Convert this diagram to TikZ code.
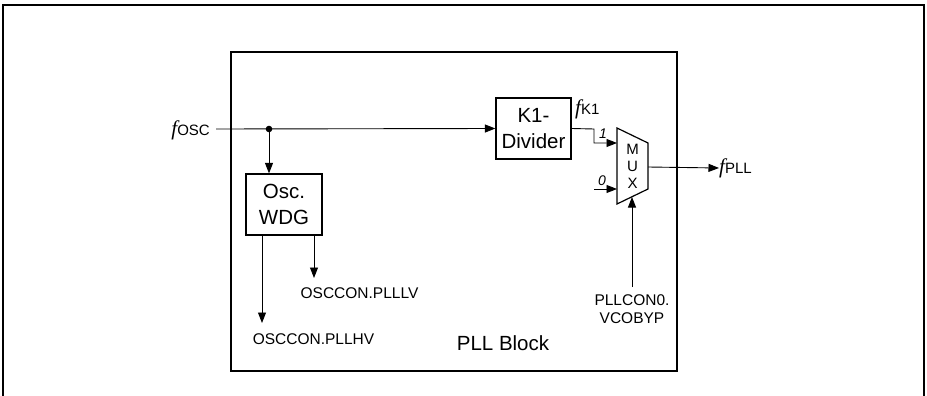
\documentclass[tikz,border=0pt]{standalone}
\usepackage{fontspec}
\setmainfont{Liberation Sans}
\newfontfamily\tnr{Liberation Serif}
\usetikzlibrary{arrows.meta}
\newcommand{\fsym}[1]{{\fontsize{21}{22}\selectfont\tnr\itshape f}{\fontsize{15}{16}\selectfont #1}}
\begin{document}
\begin{tikzpicture}[x=1pt,y=-1pt,
  conn/.style={line width=0.9pt,-{Triangle[length=10.5pt,width=8pt]}},
  blockbox/.style={draw,line width=1.2pt,inner sep=0pt,align=center,font=\fontsize{20.5}{26}\selectfont},
  smalllab/.style={inner sep=0pt,align=center,font=\fontsize{15.5}{18}\selectfont},
  sellab/.style={inner sep=0pt,font=\fontsize{14}{16}\selectfont\itshape}]
\useasboundingbox (0,0) rectangle (927,396);
% outer frame
\draw[line width=2pt] (3,396) -- (3,5) -- (924,5) -- (924,396);
% PLL block
\draw[line width=1.8pt] (231,52) rectangle (677,371);
\node[inner sep=0pt,font=\fontsize{20.5}{22}\selectfont] (plllab) at (503,343) {PLL Block};
% input
\node[inner sep=0pt,anchor=east] (fosc) at (210,130) {\fsym{OSC}};
\coordinate (fin) at (216,129);
\coordinate (dot) at (269,129);
\node[blockbox,minimum width=75pt,minimum height=61pt] (div) at (533.5,128.5) {K1-\\Divider};
\node[blockbox,minimum width=76pt,minimum height=61pt] (wdg) at (284,204.5) {Osc.\\WDG};
\draw[conn] (fin) -- (div.west);
\fill (dot) circle (3.3pt);
\draw[conn] (dot) -- (dot |- wdg.north);
% WDG outputs
\node[smalllab] (hv) at (313.5,339) {OSCCON.PLLHV};
\node[smalllab] (lv) at (359.5,293) {OSCCON.PLLLV};
\coordinate (hvt) at (262,323);
\coordinate (lvt) at (314,278);
\draw[conn] (wdg.south -| hvt) -- (hvt);
\draw[conn] (wdg.south -| lvt) -- (lvt);
% MUX
\coordinate (mtl) at (617,128);
\coordinate (mtr) at (648,143);
\coordinate (mbr) at (648,189);
\coordinate (mbl) at (617,204);
\draw[line width=1.2pt] (mtl) -- (mtr) -- (mbr) -- (mbl) -- cycle;
\node[inner sep=0pt,align=center,font=\fontsize{15}{17}\selectfont] (mux) at (632.5,166) {M\\U\\X};
\coordinate (in1) at (617,143);
\coordinate (in0) at (617,189);
\coordinate (in0s) at (594,189);
\coordinate (out) at (648,167);
\coordinate (sel) at (632,197);
\coordinate (selb) at (632,287);
\node[inner sep=0pt,anchor=west] (fk1) at (575,109) {\fsym{K1}};
\draw[conn] (div.east) -- (594,129) -- (594,143) -- (in1);
\node[sellab] (l1) at (603,134) {1};
\node[sellab] (l0) at (602,181) {0};
\draw[conn] (in0s) -- (in0);
\node[inner sep=0pt,anchor=west] (fpll) at (719,168) {\fsym{PLL}};
\draw[conn] (out) -- (fpll.west);
\node[smalllab] (vco) at (632,309) {PLLCON0.\\VCOBYP};
\draw[conn] (selb) -- (sel);
\end{tikzpicture}
\end{document}
